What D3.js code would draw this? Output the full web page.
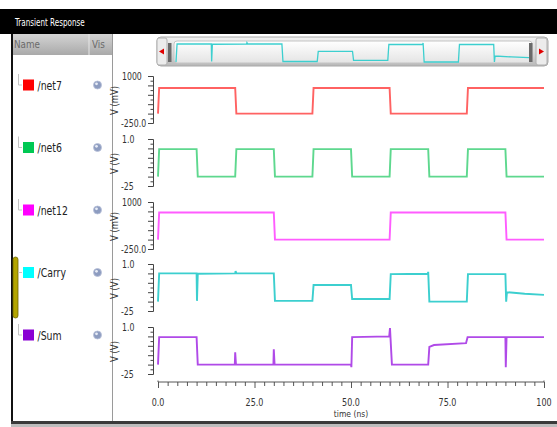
<!DOCTYPE html>
<html>
<head>
<meta charset="utf-8">
<script src="https://cdn.jsdelivr.net/npm/d3@7"></script>
<style>
  body { margin: 0; background: #fff; }
  svg { display: block; font-family: 'DejaVu Sans', sans-serif; }
</style>
</head>
<body>
<figure style="margin:0"></figure>
<script>
const width = 557
const height = 427

// signal names and colours
const signals = ['/net7', '/net6', '/net12', '/Carry', '/Sum']
const swatchColors = ['#ff0000', '#00c853', '#ff00ff', '#00ffff', '#8a00d4']
const lineColors = ['#ff6262', '#5ed88e', '#ff5cff', '#3ccfcf', '#b04ae8']

// y axis labels per row
const unitLabels = ['V (mV)', 'V (V)', 'V (mV)', 'V (V)', 'V (V)']
const maxLabels = ['1000', '1.0', '1000', '1.0', '1.0']
const minLabels = ['-250.0', '-25', '-250.0', '-25', '-25']
const yDomains = [[-250, 1000], [-0.25, 1.0], [-250, 1000], [-0.25, 1.0], [-0.25, 1.0]]

// x axis
const timeTicks = [0, 25, 50, 75, 100]
const timeTickLabels = ['0.0', '25.0', '50.0', '75.0', '100']

// waveforms: [time (ns), value]
const net7Wave = [[0, 0], [0.3, 680], [20, 680], [20.3, 0], [40, 0], [40.3, 680], [60, 680], [60.3, 0], [80, 0], [80.3, 680], [100, 680]]
const net6Wave = [[0, 0], [0.3, 0.73], [10, 0.73], [10.3, 0], [20, 0], [20.3, 0.73], [30, 0.73], [30.3, 0], [40, 0], [40.3, 0.73],
  [50, 0.73], [50.3, 0], [60, 0], [60.3, 0.73], [70, 0.73], [70.3, 0], [80, 0], [80.3, 0.73], [90, 0.73], [90.3, 0], [100, 0]]
const net12Wave = [[0, 0], [0.3, 720], [30, 720], [30.3, 0], [60, 0], [60.3, 720], [90, 720], [90.3, 0], [100, 0]]
const carryWave = [[0, 0], [0.3, 0.75], [10, 0.75], [10.1, 0.02], [10.3, 0.74], [20, 0.75], [20.1, 0.81], [20.3, 0.75], [30, 0.75],
  [30.3, 0.02], [40, 0.02], [40.3, 0.44], [50, 0.44], [50.3, 0.07], [60, 0.07], [60.3, 0.73], [69.9, 0.74], [70, 0.79],
  [70.3, 0.0], [80, 0.0], [80.3, 0.73], [90, 0.73], [90.2, 0.0], [90.4, 0.25], [95, 0.21], [100, 0.18]]
const sumWave = [[0, 0], [0.3, 0.73], [10, 0.73], [10.3, 0.0], [19.9, 0.0], [20, 0.33], [20.2, 0.0], [29.9, 0.0], [30, 0.41],
  [30.2, 0.0], [50, 0.0], [50.1, -0.07], [50.3, 0.73], [59.9, 0.75], [60.1, 0.97], [60.6, 0.0], [70, 0.0], [70.3, 0.47],
  [71.5, 0.52], [79.8, 0.57], [80.2, 0.73], [90, 0.73], [90.1, -0.07], [90.3, 0.73], [100, 0.73]]
const waves = [net7Wave, net6Wave, net12Wave, carryWave, sumWave]

// layout
const rowTops = [76, 139, 202, 264, 327]
const rowH = 47
const legendY = [85, 147.5, 210, 272.5, 335]

const svg = d3.select('figure').append('svg')
  .attr('width', width)
  .attr('height', height)

// narrow text: the original UI font is squeezed horizontally
const label = (parent, x, y, str, size, sx, opts = {}) => {
  const t = parent.append('text')
    .attr('transform', `translate(${x},${y}) ${opts.rot ? 'rotate(-90) ' : ''}scale(${sx},1)`)
    .attr('font-size', size)
    .attr('fill', opts.fill || '#333')
    .attr('text-anchor', opts.anchor || 'start')
    .text(str)
  return t
}

const defs = svg.append('defs')
const grad = (id, stops) => {
  const g = defs.append('linearGradient').attr('id', id).attr('x1', 0).attr('y1', 0).attr('x2', 0).attr('y2', 1)
  stops.forEach(s => g.append('stop').attr('offset', s[0]).attr('stop-color', s[1]))
}
grad('hdr', [[0, '#d4d4d4'], [1, '#a9a9a9']])
grad('bar', [[0, '#f2f2f2'], [0.5, '#dcdcdc'], [1, '#b8b8b8']])
grad('inner', [[0, '#ffffff'], [1, '#e4e4e4']])

// title bar
svg.append('rect').attr('x', 0).attr('y', 9).attr('width', width).attr('height', 25).attr('fill', '#000')
label(svg, 15, 26, 'Transient Response', 10, 0.72, { fill: '#fff' })

// left panel
svg.append('rect').attr('x', 13).attr('y', 34).attr('width', 99).attr('height', 21).attr('fill', 'url(#hdr)')
svg.append('line').attr('x1', 89).attr('x2', 89).attr('y1', 34).attr('y2', 55).attr('stroke', '#e6e6e6')
label(svg, 14, 48, 'Name', 11, 0.8, { fill: '#6a6a6a' })
label(svg, 92, 48, 'Vis', 11, 0.8, { fill: '#6a6a6a' })
svg.append('rect').attr('x', 11).attr('y', 34).attr('width', 2).attr('height', 389).attr('fill', '#111')
svg.append('line').attr('x1', 112.5).attr('x2', 112.5).attr('y1', 34).attr('y2', 421).attr('stroke', '#9a9a9a')
svg.append('rect').attr('x', 11).attr('y', 421).attr('width', width - 11).attr('height', 3).attr('fill', '#3a3a3a')
svg.append('rect').attr('x', 11).attr('y', 424).attr('width', width - 11).attr('height', 3).attr('fill', '#bdbdbd')

// olive selection bar on Carry
svg.append('rect').attr('x', 13).attr('y', 257).attr('width', 5).attr('height', 61).attr('rx', 2.5)
  .attr('fill', '#b3a500').attr('stroke', '#6e6600').attr('stroke-width', 0.8)

const legend = svg.selectAll('g.legend').data(signals).join('g')
  .attr('class', 'legend')
  .attr('transform', (d, i) => `translate(0,${legendY[i]})`)
legend.append('path')
  .attr('d', (d, i) => i === 3 ? 'M18.5,0 H22' : 'M18.5,-11 V0 H22')
  .attr('fill', 'none').attr('stroke', '#c4c4c4')
legend.append('rect').attr('x', 23).attr('y', -5.5).attr('width', 11).attr('height', 11)
  .attr('fill', (d, i) => swatchColors[i])
legend.each(function (d) { label(d3.select(this), 37.5, 4.5, d, 12, 0.78, { fill: '#222' }) })
legend.append('circle').attr('cx', 97.5).attr('cy', 0).attr('r', 4)
  .attr('fill', '#8d9cc0').attr('stroke', '#b7c0d8').attr('stroke-width', 0.8)
legend.append('circle').attr('cx', 96.5).attr('cy', -1.2).attr('r', 1.4).attr('fill', '#e8ecf6')

// x scale
const xScale = d3.scaleLinear().domain([0, 100]).range([158, 544])

// scroll overview
svg.append('rect').attr('x', 157).attr('y', 37).attr('width', 391).attr('height', 29).attr('rx', 4)
  .attr('fill', 'url(#bar)').attr('stroke', '#a8a8a8')
svg.append('rect').attr('x', 157).attr('y', 38).attr('width', 10).attr('height', 27).attr('rx', 2)
  .attr('fill', '#ececec').attr('stroke', '#b0b0b0')
svg.append('path').attr('d', 'M159,51.5 L164,48.5 L164,54.5 Z').attr('fill', '#e00000')
svg.append('rect').attr('x', 536).attr('y', 38).attr('width', 11).attr('height', 27).attr('rx', 2)
  .attr('fill', '#ececec').attr('stroke', '#b0b0b0')
svg.append('path').attr('d', 'M544,51.5 L539,48.5 L539,54.5 Z').attr('fill', '#e00000')
svg.append('rect').attr('x', 174).attr('y', 41).attr('width', 358).attr('height', 22).attr('rx', 3)
  .attr('fill', 'url(#inner)').attr('stroke', '#c4c4c4')
svg.append('rect').attr('x', 168).attr('y', 43).attr('width', 3.5).attr('height', 19).attr('fill', '#6a6a6a')
svg.append('rect').attr('x', 529).attr('y', 43).attr('width', 3.5).attr('height', 19).attr('fill', '#6a6a6a')

const xThumb = d3.scaleLinear().domain([0, 100]).range([176, 529])
const yThumb = d3.scaleLinear().domain([0, 0.75]).range([62, 44])
const thumbLine = d3.line().x(d => xThumb(d[0])).y(d => yThumb(d[1]))
svg.append('path').attr('d', thumbLine(carryWave))
  .attr('fill', 'none').attr('stroke', '#3ccfcf').attr('stroke-width', 1.3)

// waveform rows
signals.forEach((name, i) => {
  const top = rowTops[i]
  const y = d3.scaleLinear().domain(yDomains[i]).range([top + rowH, top])
  const g = svg.append('g')

  label(g, 122, top + 3.5, maxLabels[i], 10, 0.78)
  label(g, 121, top + rowH + 3.5, minLabels[i], 10, 0.78)
  label(g, 118, top + rowH / 2 + 1, unitLabels[i], 10, 0.85, { rot: true, anchor: 'middle' })

  // little vertical ruler
  const ruler = d3.axisLeft(d3.scaleLinear().domain([0, 10]).range([top + rowH, top]))
    .ticks(10).tickSize(3).tickFormat('')
  g.append('g').attr('transform', 'translate(153,0)').call(ruler)
    .call(s => s.selectAll('line, path').attr('stroke', '#444').attr('stroke-width', 1))
    .call(s => s.selectAll('.tick line').attr('x2', (d, k) => k % 2 ? -2.5 : -5))

  const line = d3.line().x(d => xScale(d[0])).y(d => y(d[1]))
  g.append('path').attr('d', line(waves[i]))
    .attr('fill', 'none').attr('stroke', lineColors[i]).attr('stroke-width', 1.9)
})

// time axis
const xAxis = d3.axisBottom(xScale).tickValues(d3.range(0, 100.01, 2.5)).tickSize(4).tickFormat('')
svg.append('g').attr('transform', 'translate(0,382)').call(xAxis)
  .call(s => s.selectAll('line, path').attr('stroke', '#444').attr('stroke-width', 0.9))
  .call(s => s.select('.domain').attr('d', 'M158,-1.5V0H544V-1.5'))
  .call(s => s.selectAll('.tick line').attr('y2', d => d % 25 === 0 ? 6 : 4))
timeTicks.forEach((d, i) => label(svg, xScale(d), 406, timeTickLabels[i], 10, 0.8, { anchor: 'middle' }))
label(svg, xScale(50), 417, 'time (ns)', 9.5, 0.8, { anchor: 'middle' })
</script>
</body>
</html>
